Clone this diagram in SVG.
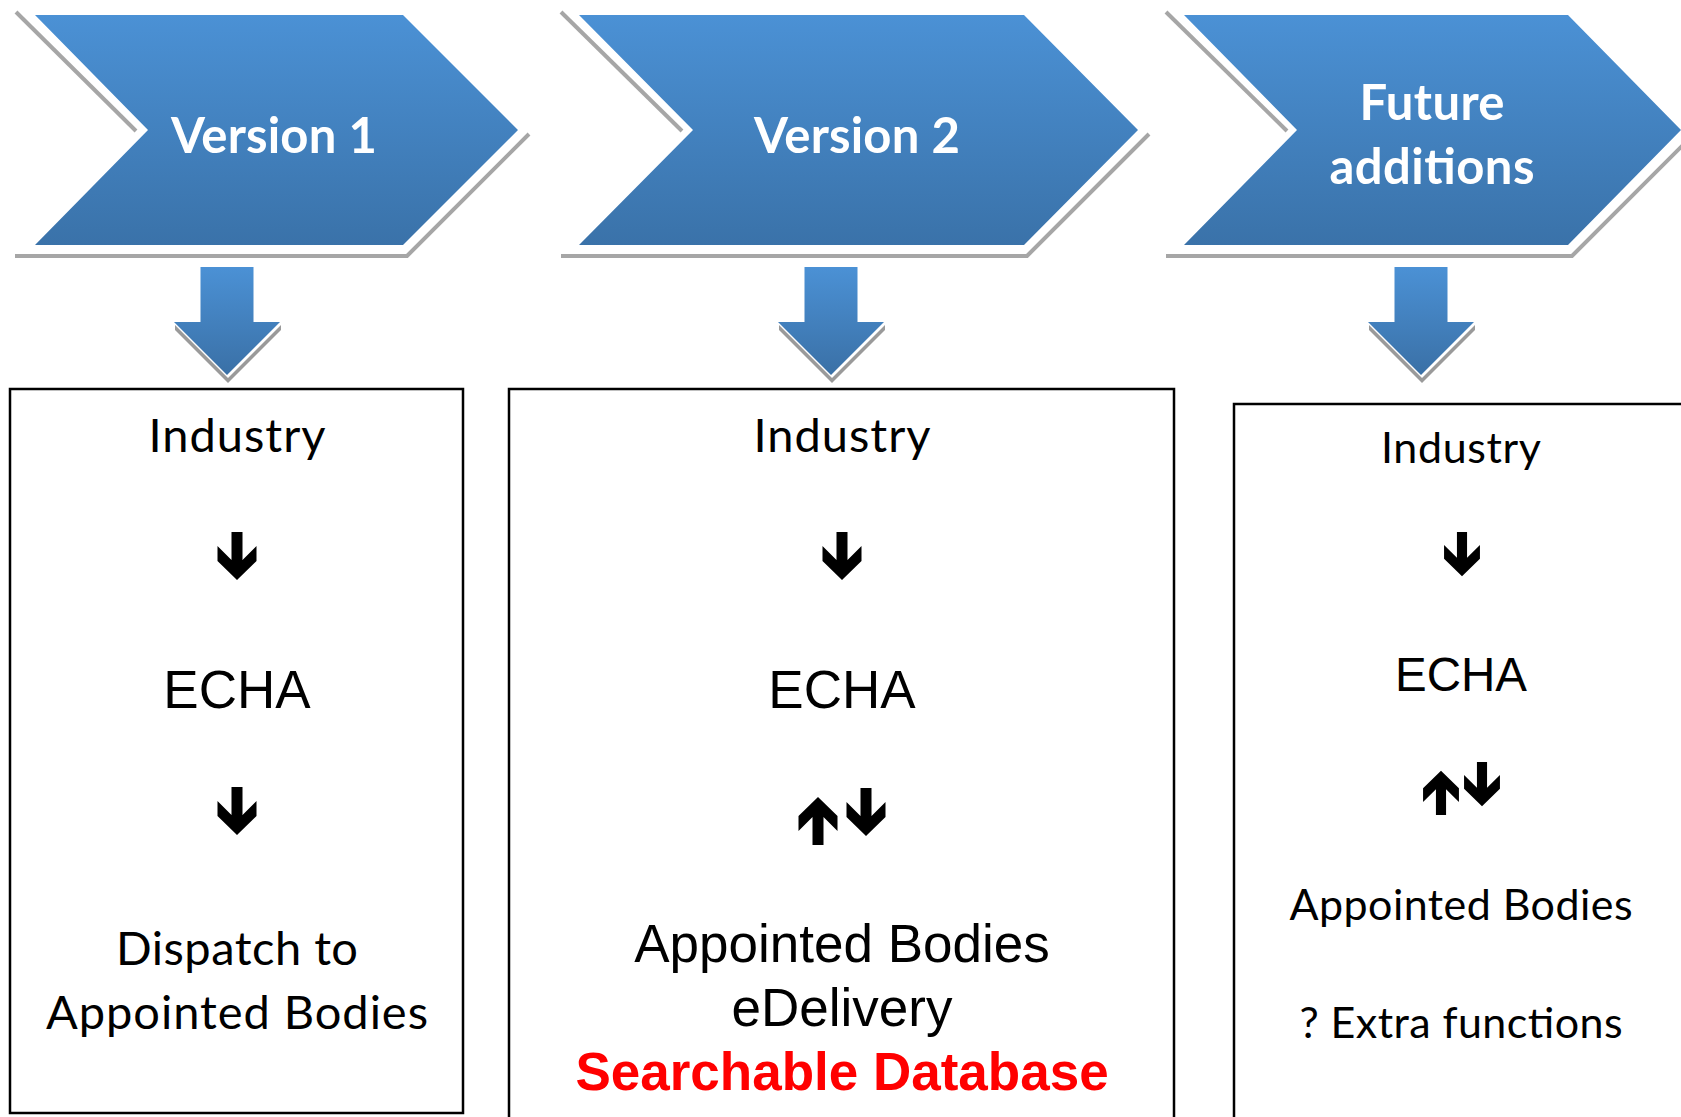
<svg xmlns="http://www.w3.org/2000/svg" width="1681" height="1117" viewBox="0 0 1681 1117">
<style>
.chev{fill:url(#blue)}
.shd{fill:none;stroke:#a6a6a6;stroke-width:4}
.hd{font-family:Lato,'Open Sans',sans-serif;font-weight:bold;fill:#fff;text-anchor:middle}
.cal{font-family:Lato,'Open Sans',sans-serif;fill:#000;text-anchor:middle}
.ar{font-family:'Liberation Sans',Arial,sans-serif;fill:#000;text-anchor:middle}
.box{fill:#fff;stroke:#000;stroke-width:2.5}
.big{fill:url(#blue2)}
.bigshd{fill:#9a9a9a}
.sm{fill:#000}
</style>
<defs>
<linearGradient id="blue" x1="0" y1="0" x2="0" y2="1">
<stop offset="0" stop-color="#4b91d5"/>
<stop offset="1" stop-color="#3a72a9"/>
</linearGradient>
<linearGradient id="blue2" x1="0" y1="0" x2="0" y2="1">
<stop offset="0" stop-color="#4b91d5"/>
<stop offset="1" stop-color="#3a70a6"/>
</linearGradient>
<path id="dn" d="M-5.5,0 H5.5 V28 L19.5,14 V29 L0,48 L-19.5,29 V14 L-5.5,28 Z"/>
</defs>
<rect width="1681" height="1117" fill="#fff"/>

<g id="version1">
<polyline class="shd" points="16,12 136,131"/>
<polyline class="shd" points="15,256 407,256 529,134"/>
<polygon class="chev" points="35,15 403,15 518,130 403,245 35,245 148,130"/>
<text class="hd" x="274" y="153" font-size="49" textLength="206">Version 1</text>
</g>

<g id="version2">
<polyline class="shd" points="561,12 682,131"/>
<polyline class="shd" points="561,256 1027,256 1149,134"/>
<polygon class="chev" points="579,15 1024,15 1138,130 1024,245 579,245 693,130"/>
<text class="hd" x="857" y="153" font-size="49" textLength="206">Version 2</text>
</g>

<g id="future">
<polyline class="shd" points="1166,12 1287,131"/>
<polyline class="shd" points="1166,256 1572,256 1683,145"/>
<polygon class="chev" points="1184,15 1568,15 1681,130 1568,245 1184,245 1297,130"/>
<text class="hd" x="1432" y="120" font-size="49" textLength="145">Future</text>
<text class="hd" x="1432" y="184" font-size="49" textLength="205">additions</text>
</g>

<g id="box1">
<rect class="box" x="10" y="389" width="453" height="724"/>
<text class="cal" x="237" y="452" font-size="47" textLength="177">Industry</text>
<text class="ar" x="237" y="708" font-size="53">ECHA</text>
<text class="cal" x="237" y="965" font-size="47" textLength="242">Dispatch to</text>
<text class="cal" x="237" y="1029" font-size="47" textLength="382">Appointed Bodies</text>
</g>

<g id="box2">
<rect class="box" x="509" y="389" width="665" height="740"/>
<text class="cal" x="842" y="452" font-size="47" textLength="177">Industry</text>
<text class="ar" x="842" y="708" font-size="53">ECHA</text>
<text class="ar" x="842" y="962" font-size="53">Appointed Bodies</text>
<text class="ar" x="842" y="1026" font-size="53">eDelivery</text>
<text class="ar" x="842" y="1090" font-size="53" font-weight="bold" style="fill:#ff0000">Searchable Database</text>
</g>

<g id="box3">
<rect class="box" x="1234" y="404" width="460" height="730"/>
<text class="cal" x="1461" y="463" font-size="43" textLength="160">Industry</text>
<text class="ar" x="1461" y="691" font-size="47.5">ECHA</text>
<text class="cal" x="1461" y="920" font-size="43" textLength="343">Appointed Bodies</text>
<text class="cal" x="1461" y="1038" font-size="43" textLength="323">? Extra functions</text>
</g>

<g id="connectors">
<g id="big1">
<polygon class="bigshd" points="175,325 228,378 281,325 281,330 228,383 175,330"/>
<polygon class="big" points="200.5,267 253.5,267 253.5,322 280,322 227,375 174,322 200.5,322"/>
</g>
<g id="big2">
<polygon class="bigshd" points="779,325 832,378 885,325 885,330 832,383 779,330"/>
<polygon class="big" points="804.5,267 857.5,267 857.5,322 884,322 831,375 778,322 804.5,322"/>
</g>
<g id="big3">
<polygon class="bigshd" points="1369,325 1422,378 1475,325 1475,330 1422,383 1369,330"/>
<polygon class="big" points="1394.5,267 1447.5,267 1447.5,322 1474,322 1421,375 1368,322 1394.5,322"/>
</g>
<use href="#dn" class="sm" transform="translate(237,532)"/>
<use href="#dn" class="sm" transform="translate(237,787)"/>
<use href="#dn" class="sm" transform="translate(842,532)"/>
<use href="#dn" class="sm" transform="translate(818,845) rotate(180)"/>
<use href="#dn" class="sm" transform="translate(866,788)"/>
<use href="#dn" class="sm" transform="translate(1462,532) scale(0.92)"/>
<use href="#dn" class="sm" transform="translate(1441,815) rotate(180) scale(0.92)"/>
<use href="#dn" class="sm" transform="translate(1482,762) scale(0.92)"/>
</g>
</svg>
